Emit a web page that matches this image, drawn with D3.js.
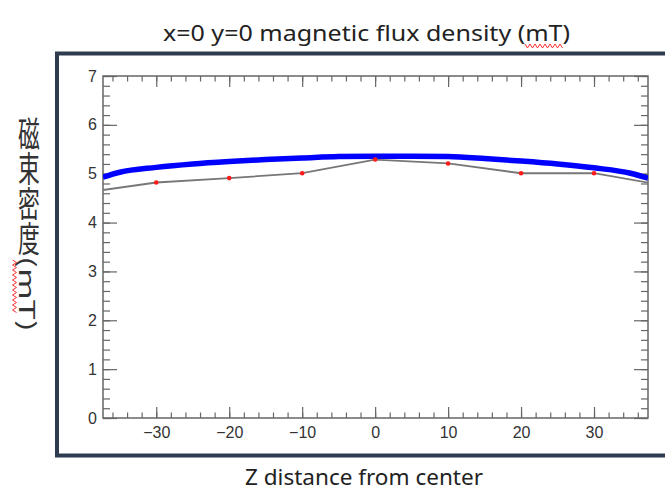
<!DOCTYPE html>
<html>
<head>
<meta charset="utf-8">
<script src="https://cdn.jsdelivr.net/npm/d3@7"></script>
<style>
body { margin: 0; background: #fff; }
</style>
</head>
<body>
<svg width="665" height="493"></svg>
<script>
// calculated field along the axis (blue band)
var zCalc = [-37.3, -35, -30, -25, -20, -15, -10, -5, 0, 5, 10, 15, 20, 25, 30, 35, 37.4];
var bCalc = [4.93, 5.03, 5.13, 5.20, 5.25, 5.29, 5.32, 5.35, 5.36, 5.36, 5.35, 5.31, 5.26, 5.20, 5.12, 5.01, 4.91];
// measured points (grey line, red dots)
var zMeas = [-40, -30, -20, -10, 0, 10, 20, 30, 40];
var bMeas = [4.61, 4.82, 4.91, 5.01, 5.29, 5.21, 5.01, 5.01, 4.75];
var xTicks = [-30, -20, -10, 0, 10, 20, 30];
var yTicks = [0, 1, 2, 3, 4, 5, 6, 7];
var title = "x=0 y=0 magnetic flux density (mT)";
var xTitle = "Z distance from center";
var yTitle = "磁束密度(mT)";

var svg = d3.select("svg");
var pLeft = 103, pRight = 648, pTop = 76, pBottom = 418;

var x = d3.scaleLinear().domain([-37.3, 37.4]).range([pLeft, pRight]);
var y = d3.scaleLinear().domain([0, 7]).range([pBottom, pTop]);

// outer frame
svg.append("rect")
  .attr("x", 57).attr("y", 53.5)
  .attr("width", 700).attr("height", 402)
  .attr("fill", "none")
  .attr("stroke", "#2f3b4f")
  .attr("stroke-width", 4);

svg.append("clipPath").attr("id", "clip")
  .append("rect")
  .attr("x", pLeft).attr("y", pTop)
  .attr("width", pRight - pLeft).attr("height", pBottom - pTop);

function styleAxis(g) {
  g.select(".domain").remove();
  g.selectAll("line").attr("stroke", "#666").attr("stroke-width", 1.2);
  g.selectAll("text")
    .attr("font-family", "Liberation Sans, Arial, sans-serif")
    .attr("font-size", 16)
    .attr("fill", "#333");
}

var minorX = d3.range(-36, 37, 2), minorY = d3.range(0, 7.01, 0.2);

// bottom
svg.append("g").attr("transform", "translate(0," + pBottom + ")")
  .call(d3.axisBottom(x).tickValues(minorX).tickSize(-5.5).tickFormat(""))
  .call(styleAxis);
svg.append("g").attr("transform", "translate(0," + pBottom + ")")
  .call(d3.axisBottom(x).tickValues(xTicks).tickSize(-11).tickPadding(9)
    .tickFormat(function(d) { return d < 0 ? "\u2212" + (-d) : d; }))
  .call(styleAxis);
// top
svg.append("g").attr("transform", "translate(0," + pTop + ")")
  .call(d3.axisTop(x).tickValues(minorX).tickSize(-5.5).tickFormat(""))
  .call(styleAxis);
svg.append("g").attr("transform", "translate(0," + pTop + ")")
  .call(d3.axisTop(x).tickValues(xTicks).tickSize(-11).tickFormat(""))
  .call(styleAxis);
// left
svg.append("g").attr("transform", "translate(" + pLeft + ",0)")
  .call(d3.axisLeft(y).tickValues(minorY).tickSize(-7).tickFormat(""))
  .call(styleAxis);
svg.append("g").attr("transform", "translate(" + pLeft + ",0)")
  .call(d3.axisLeft(y).tickValues(yTicks).tickSize(-14).tickPadding(6).tickFormat(d3.format("d")))
  .call(styleAxis);
// right
svg.append("g").attr("transform", "translate(" + pRight + ",0)")
  .call(d3.axisRight(y).tickValues(minorY).tickSize(-7).tickFormat(""))
  .call(styleAxis);
svg.append("g").attr("transform", "translate(" + pRight + ",0)")
  .call(d3.axisRight(y).tickValues(yTicks).tickSize(-14).tickFormat(""))
  .call(styleAxis);

// plot box
svg.append("rect")
  .attr("x", pLeft).attr("y", pTop)
  .attr("width", pRight - pLeft).attr("height", pBottom - pTop)
  .attr("fill", "none")
  .attr("stroke", "#666")
  .attr("stroke-width", 1.5);

var plot = svg.append("g").attr("clip-path", "url(#clip)");

var calc = zCalc.map(function(z, i) { return [z, bCalc[i]]; });
var meas = zMeas.map(function(z, i) { return [z, bMeas[i]]; });

plot.append("path")
  .datum(calc)
  .attr("fill", "none")
  .attr("stroke", "#0000ff")
  .attr("stroke-width", 5.5)
  .attr("d", d3.line()
    .x(function(d) { return x(d[0]); })
    .y(function(d) { return y(d[1]); })
    .curve(d3.curveMonotoneX));

plot.append("path")
  .datum(meas)
  .attr("fill", "none")
  .attr("stroke", "#777")
  .attr("stroke-width", 1.8)
  .attr("d", d3.line()
    .x(function(d) { return x(d[0]); })
    .y(function(d) { return y(d[1]); }));

plot.selectAll("circle")
  .data(meas)
  .enter()
  .append("circle")
  .attr("cx", function(d) { return x(d[0]); })
  .attr("cy", function(d) { return y(d[1]); })
  .attr("r", 2.3)
  .attr("fill", "#ff1a1a");

// wavy spell-check style underline
function squiggle(x0, y0, len, vertical) {
  var pts = [], step = 2.5;
  for (var i = 0; i * step <= len; i++) {
    var off = (i % 2 ? 2 : -2);
    pts.push(vertical ? [x0 + off, y0 + i * step] : [x0 + i * step, y0 + off]);
  }
  svg.append("path")
    .attr("d", d3.line()(pts))
    .attr("fill", "none")
    .attr("stroke", "#ff3030")
    .attr("stroke-width", 1);
}

// title
svg.append("text")
  .attr("x", 163).attr("y", 41)
  .attr("font-family", "Noto Sans, sans-serif")
  .attr("font-size", 21)
  .attr("fill", "#222")
  .attr("textLength", 407)
  .attr("lengthAdjust", "spacingAndGlyphs")
  .text(title);
squiggle(525, 46, 38, false);

// x title
svg.append("text")
  .attr("x", 245).attr("y", 485)
  .attr("font-family", "Noto Sans, sans-serif")
  .attr("font-size", 22)
  .attr("fill", "#222")
  .attr("textLength", 238)
  .attr("lengthAdjust", "spacingAndGlyphs")
  .text(xTitle);

// y title, vertical writing, scaled into its box
var yl = svg.append("text")
  .attr("x", 0).attr("y", 0)
  .style("writing-mode", "vertical-rl")
  .attr("font-family", "Noto Sans CJK JP, sans-serif")
  .attr("font-size", 26)
  .attr("fill", "#333")
  .text(yTitle);
var bb = yl.node().getBBox();
var sx = 31 / bb.width, sy = 216 / bb.height;
yl.attr("transform", "translate(" + (13.5 - bb.x * sx) + "," + (116 - bb.y * sy) + ") scale(" + sx + "," + sy + ")");
squiggle(14.5, 260, 53, true);
</script>
</body>
</html>
